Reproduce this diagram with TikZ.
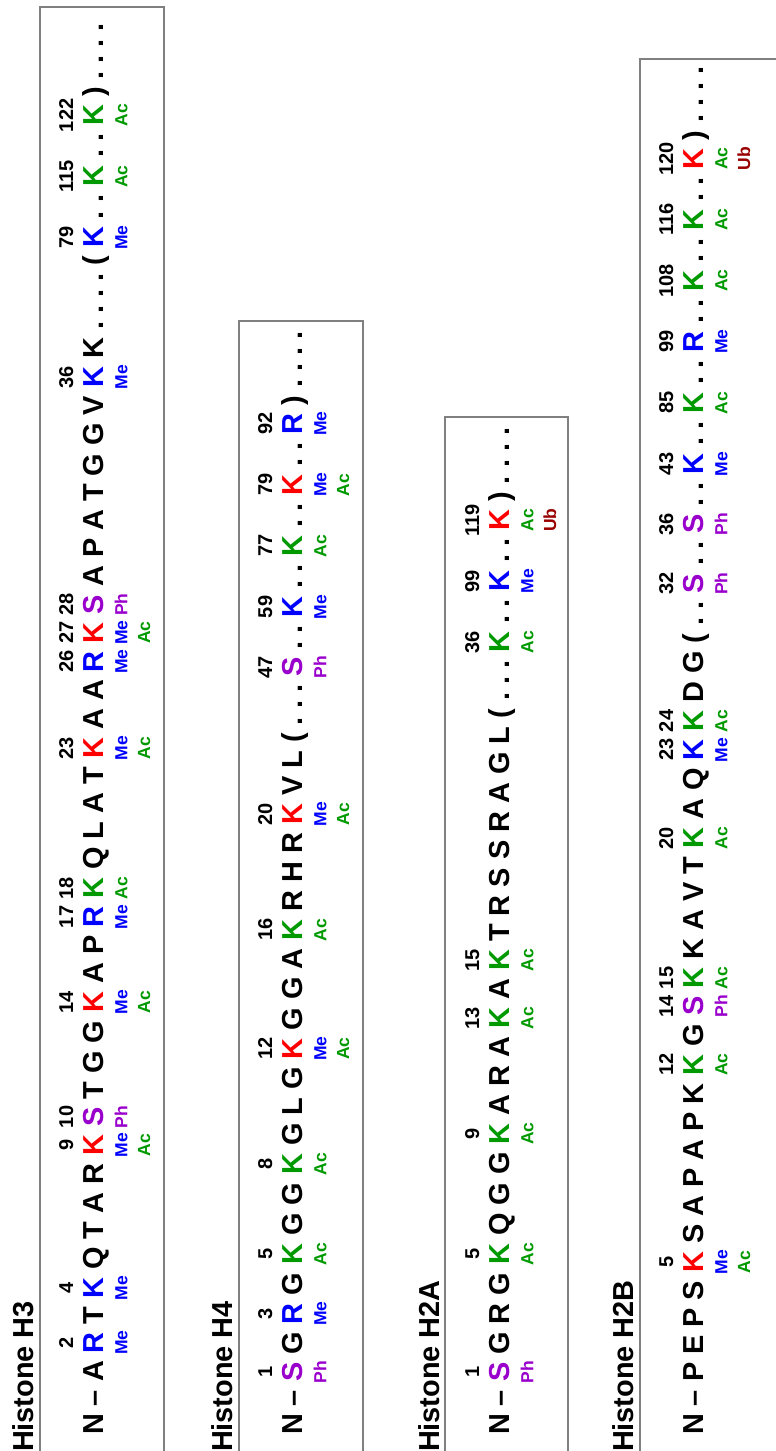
\documentclass[tikz,border=0pt]{standalone}
\usepackage{fontspec}
\setmainfont{Liberation Sans}
\usetikzlibrary{positioning}
\colorlet{cNo}{black}
\definecolor{cMe}{RGB}{0, 0, 255}
\definecolor{cAc}{RGB}{0, 153, 0}
\definecolor{cPh}{RGB}{153, 0, 204}
\definecolor{cMx}{RGB}{255, 0, 0}
\definecolor{cUb}{RGB}{153, 0, 0}
\definecolor{boxline}{RGB}{128, 128, 128}

\begin{document}
\begin{tikzpicture}[
  x=0.5pt, y=0.5pt, rotate=90,
  every node/.style={transform shape, inner sep=0pt, outer sep=0pt},
  ttl/.style={font=\fontsize{14.45}{16}\selectfont\bfseries, anchor=base west},
  res/.style={font=\fontsize{14.45}{16}\selectfont\bfseries, text=c#1},
  num/.style={font=\fontsize{10}{12}\selectfont\bfseries, anchor=base},
  lab/.style={font=\fontsize{8.75}{10}\selectfont\bfseries, anchor=base, text=c#1},
  frame/.style={draw=boxline, line width=1pt},
]

\def\gap{4.02pt}
\useasboundingbox (0,0) rectangle (1451,-776);
\clip (0,0) rectangle (1451,-776);

% Boxes and titles
\draw[frame] (-10,-39.5) rectangle (1444,-164);
\draw[frame] (-10,-238.5) rectangle (1130,-363);
\draw[frame] (-10,-444.5) rectangle (1034,-568);
\draw[frame] (-10,-639.5) rectangle (1392,-800);
\node[ttl] (t3) at (-1,-33) {Histone H3};
\node[ttl] (t4) at (-1,-232) {Histone H4};
\node[ttl] (t2a) at (-1,-439) {Histone H2A};
\node[ttl] (t2b) at (-1,-633) {Histone H2B};

% Histone H3
\node[res=No, anchor=base west] (h3-1) at (16,-103.3) {N};
\foreach \c/\col [count=\i from 2, remember=\i as \j (initially 1)] in {
  \textendash/No, A/No, R/Me, T/No, K/Me, Q/No, T/No, A/No, R/No, K/Mx,
  S/Ph, T/No, G/No, G/No, K/Mx, A/No, P/No, R/Me, K/Ac, Q/No, L/No, A/No,
  T/No, K/Mx, A/No, A/No, R/Me, K/Mx, S/Ph, A/No, P/No, A/No, T/No, G/No,
  G/No, V/No, K/Me, K/No, ./No, ./No, ./No, ./No, {(}/No, K/Me, ./No,
  ./No, K/Ac, ./No, ./No, K/Ac, {)}/No, ./No, ./No, ./No, ./No}
  \node[res=\col, base right=\gap of h3-\j] (h3-\i) {\c};
\foreach \i/\n in {4/2, 6/4, 11/9, 12/10, 16/14, 19/17, 20/18, 25/23,
  28/26, 29/27, 30/28, 38/36, 45/79, 48/115, 51/122}
  \node[num] (n3-\i) at ([yshift=15.15pt]h3-\i.base) {\n};
\foreach \i/\m in {4/Me, 6/Me, 11/Me, 12/Ph, 16/Me, 19/Me, 20/Ac, 25/Me,
  28/Me, 29/Me, 30/Ph, 38/Me, 45/Me, 48/Ac, 51/Ac}
  \node[lab=\m] (a3-\i) at ([yshift=-12pt]h3-\i.base) {\m};
\foreach \i/\m in {11/Ac, 16/Ac, 25/Ac, 29/Ac}
  \node[lab=\m] (b3-\i) at ([yshift=-23.35pt]h3-\i.base) {\m};

% Histone H4
\node[res=No, anchor=base west] (h4-1) at (16,-302.3) {N};
\foreach \c/\col [count=\i from 2, remember=\i as \j (initially 1)] in {
  \textendash/No, S/Ph, G/No, R/Me, G/No, K/Ac, G/No, G/No, K/Ac, G/No,
  L/No, G/No, K/Mx, G/No, G/No, A/No, K/Ac, R/No, H/No, R/No, K/Mx, V/No,
  L/No, {(}/No, ./No, ./No, ./No, S/Ph, ./No, ./No, K/Me, ./No, ./No,
  K/Ac, ./No, ./No, K/Mx, ./No, ./No, R/Me, {)}/No, ./No, ./No, ./No, ./No}
  \node[res=\col, base right=\gap of h4-\j] (h4-\i) {\c};
\foreach \i/\n in {3/1, 5/3, 7/5, 10/8, 14/12, 18/16, 22/20, 29/47,
  32/59, 35/77, 38/79, 41/92}
  \node[num] (n4-\i) at ([yshift=15.15pt]h4-\i.base) {\n};
\foreach \i/\m in {3/Ph, 5/Me, 7/Ac, 10/Ac, 14/Me, 18/Ac, 22/Me, 29/Ph,
  32/Me, 35/Ac, 38/Me, 41/Me}
  \node[lab=\m] (a4-\i) at ([yshift=-12pt]h4-\i.base) {\m};
\foreach \i/\m in {14/Ac, 22/Ac, 38/Ac}
  \node[lab=\m] (b4-\i) at ([yshift=-23.35pt]h4-\i.base) {\m};

% Histone H2A
\node[res=No, anchor=base west] (h2a-1) at (16,-509.3) {N};
\foreach \c/\col [count=\i from 2, remember=\i as \j (initially 1)] in {
  \textendash/No, S/Ph, G/No, R/No, G/No, K/Ac, Q/No, G/No, G/No, K/Ac,
  A/No, R/No, A/No, K/Ac, A/No, K/Ac, T/No, R/No, S/No, S/No, R/No, A/No,
  G/No, L/No, {(}/No, ./No, ./No, ./No, K/Ac, ./No, ./No, K/Me, ./No,
  ./No, K/Mx, {)}/No, ./No, ./No, ./No, ./No}
  \node[res=\col, base right=\gap of h2a-\j] (h2a-\i) {\c};
\foreach \i/\n in {3/1, 7/5, 11/9, 15/13, 17/15, 30/36, 33/99, 36/119}
  \node[num] (n2a-\i) at ([yshift=15.15pt]h2a-\i.base) {\n};
\foreach \i/\m in {3/Ph, 7/Ac, 11/Ac, 15/Ac, 17/Ac, 30/Ac, 33/Me, 36/Ac}
  \node[lab=\m] (a2a-\i) at ([yshift=-12pt]h2a-\i.base) {\m};
\node[lab=Ub] (b2a-36) at ([yshift=-23.35pt]h2a-36.base) {Ub};

% Histone H2B
\node[res=No, anchor=base west] (h2b-1) at (16,-703.3) {N};
\foreach \c/\col [count=\i from 2, remember=\i as \j (initially 1)] in {
  \textendash/No, P/No, E/No, P/No, S/No, K/Mx, S/No, A/No, P/No, A/No,
  P/No, K/No, K/Ac, G/No, S/Ph, K/Ac, K/No, A/No, V/No, T/No, K/Ac, A/No,
  Q/No, K/Me, K/Ac, D/No, G/No, {(}/No, ./No, ./No, S/Ph, ./No, ./No,
  S/Ph, ./No, ./No, K/Me, ./No, ./No, K/Ac, ./No, ./No, R/Me, ./No, ./No,
  K/Ac, ./No, ./No, K/Ac, ./No, ./No, K/Mx, {)}/No, ./No, ./No, ./No, ./No}
  \node[res=\col, base right=\gap of h2b-\j] (h2b-\i) {\c};
\foreach \i/\n in {7/5, 14/12, 16/14, 17/15, 22/20, 25/23, 26/24, 32/32,
  35/36, 38/43, 41/85, 44/99, 47/108, 50/116, 53/120}
  \node[num] (n2b-\i) at ([yshift=15.15pt]h2b-\i.base) {\n};
\foreach \i/\m in {7/Me, 14/Ac, 16/Ph, 17/Ac, 22/Ac, 25/Me, 26/Ac, 32/Ph,
  35/Ph, 38/Me, 41/Ac, 44/Me, 47/Ac, 50/Ac, 53/Ac}
  \node[lab=\m] (a2b-\i) at ([yshift=-12pt]h2b-\i.base) {\m};
\foreach \i/\m in {7/Ac, 53/Ub}
  \node[lab=\m] (b2b-\i) at ([yshift=-23.35pt]h2b-\i.base) {\m};

\end{tikzpicture}
\end{document}
